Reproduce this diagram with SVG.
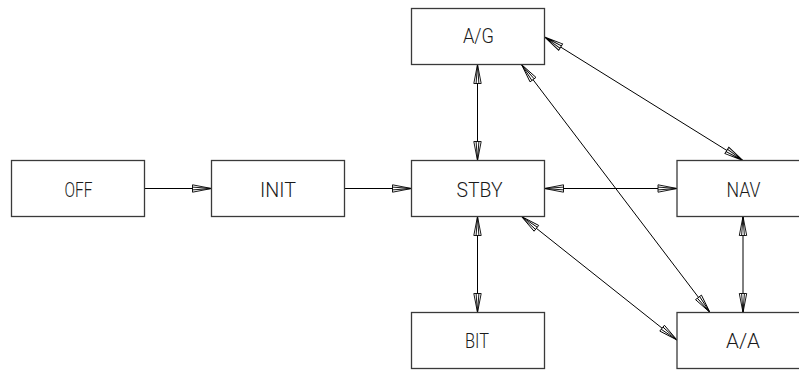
<svg xmlns="http://www.w3.org/2000/svg" width="799" height="370" viewBox="0 0 799 370">
<defs>
<style>
.box{fill:#fff;stroke:#3a3a3a;stroke-width:1.3}
.lbl{font-family:Roboto,"Liberation Sans","DejaVu Sans",sans-serif;font-weight:300;font-size:21px;fill:#1a1a1a;text-anchor:middle}
.c{stroke:#000;stroke-width:1;fill:none;marker-end:url(#ah)}
.b{marker-start:url(#ah)}
</style>
<marker id="ah" markerWidth="22" markerHeight="10" viewBox="0 0 22 10" refX="20" refY="5" orient="auto-start-reverse" markerUnits="userSpaceOnUse" overflow="visible">
<path d="M20,5 L1,1.3 L1,8.7 Z M20,5 L1,3.6 M20,5 L1,6.4" fill="#fff" stroke="#000" stroke-width="0.9"/>
</marker>
</defs>
<g id="connectors">
<line class="c" x1="144.5" y1="188.5" x2="211.5" y2="188.5"/>
<line class="c" x1="344.5" y1="188.5" x2="411.5" y2="188.5"/>
<line class="c b" x1="544.5" y1="188.5" x2="677" y2="188.5"/>
<line class="c b" x1="477.5" y1="64.5" x2="477.5" y2="160.5"/>
<line class="c b" x1="477.5" y1="216.5" x2="477.5" y2="312.5"/>
<line class="c b" x1="544.5" y1="37" x2="743" y2="160.5"/>
<line class="c b" x1="521.5" y1="64.5" x2="710" y2="312.5"/>
<line class="c b" x1="521.5" y1="216.5" x2="677" y2="340"/>
<line class="c b" x1="743" y1="216.5" x2="743" y2="312.5"/>
</g>
<g id="off"><rect class="box" x="11.5" y="160.5" width="133" height="56"/><text class="lbl" x="78.5" y="197" textLength="28" lengthAdjust="spacingAndGlyphs">OFF</text></g>
<g id="init"><rect class="box" x="211.5" y="160.5" width="133" height="56"/><text class="lbl" x="278" y="197" textLength="36" lengthAdjust="spacingAndGlyphs">INIT</text></g>
<g id="stby"><rect class="box" x="411.5" y="160.5" width="133" height="56"/><text class="lbl" x="479.5" y="197" textLength="46" lengthAdjust="spacingAndGlyphs">STBY</text></g>
<g id="ag"><rect class="box" x="411.5" y="8.5" width="133" height="56"/><text class="lbl" x="478.5" y="43" textLength="31" lengthAdjust="spacingAndGlyphs">A/G</text></g>
<g id="bit"><rect class="box" x="411.5" y="312.5" width="133" height="56"/><text class="lbl" x="477" y="348" textLength="24" lengthAdjust="spacingAndGlyphs">BIT</text></g>
<g id="nav"><rect class="box" x="677" y="160.5" width="140" height="56"/><text class="lbl" x="743.5" y="197" textLength="34" lengthAdjust="spacingAndGlyphs">NAV</text></g>
<g id="aa"><rect class="box" x="677" y="312.5" width="140" height="56"/><text class="lbl" x="743" y="348" textLength="34" lengthAdjust="spacingAndGlyphs">A/A</text></g>
</svg>
